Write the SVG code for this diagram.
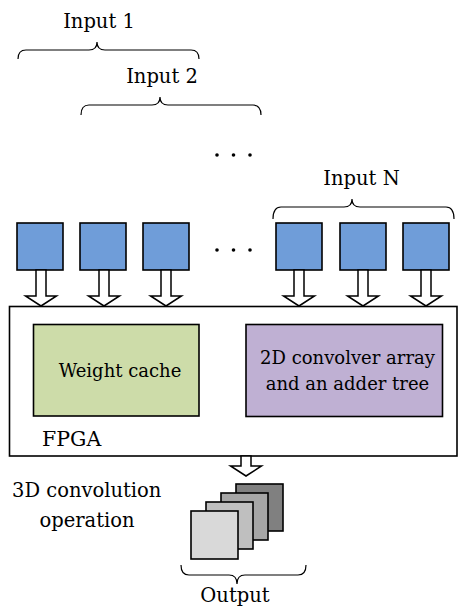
<svg xmlns="http://www.w3.org/2000/svg" width="464" height="607" viewBox="0 0 464 607">
  <style>
    text { font-family: "DejaVu Serif", serif; fill: #000; }
    .lbl { font-size: 19.5px; }
    .box { font-size: 18px; }
    .brace { fill: none; stroke: #000; stroke-width: 1.2; }
    .in { fill: #6F9DD9; stroke: #000; stroke-width: 1.6; }
    .arrow { fill: #fff; stroke: #000; stroke-width: 1.5; stroke-linejoin: miter; }
    .fmap { stroke: #000; stroke-width: 1.6; }
  </style>
  <defs>
    <!-- hollow block arrow pointing down, origin at shaft top centre -->
    <polygon id="blk" class="arrow" points="-5,0 5,0 5,26 15.5,26 0,36 -15.5,26 -5,26"/>
  </defs>

  <!-- input labels and braces -->
  <g id="input1">
    <text class="lbl" x="99" y="28" text-anchor="middle">Input 1</text>
    <path class="brace" d="M18,59 Q18,50 26,50 L89,50 Q97,50 97,42 Q97,50 105,50 L191,50 Q199,50 199,59"/>
  </g>
  <g id="input2">
    <text class="lbl" x="162" y="83" text-anchor="middle">Input 2</text>
    <path class="brace" d="M81,115 Q81,105 89,105 L152,105 Q160,105 160,97 Q160,105 168,105 L253,105 Q261,105 261,115"/>
  </g>
  <g id="dots-top">
    <circle cx="217" cy="155" r="1.8"/>
    <circle cx="233.5" cy="155" r="1.8"/>
    <circle cx="250" cy="155" r="1.8"/>
  </g>
  <g id="inputN">
    <text class="lbl" x="361.5" y="185" text-anchor="middle">Input N</text>
    <path class="brace" d="M273,219 Q273,207 281,207 L344,207 Q352,207 352,199 Q352,207 360,207 L446,207 Q454,207 454,219"/>
  </g>

  <!-- input feature maps -->
  <g id="inputs">
    <rect class="in" x="17" y="223" width="46" height="47"/>
    <rect class="in" x="80" y="223" width="46" height="47"/>
    <rect class="in" x="143" y="223" width="46" height="47"/>
    <rect class="in" x="276" y="223" width="46" height="47"/>
    <rect class="in" x="340" y="223" width="46" height="47"/>
    <rect class="in" x="403" y="223" width="46" height="47"/>
  </g>
  <g id="dots-mid">
    <circle cx="217" cy="250" r="1.8"/>
    <circle cx="233.5" cy="250" r="1.8"/>
    <circle cx="250" cy="250" r="1.8"/>
  </g>

  <!-- FPGA block -->
  <g id="fpga">
    <rect x="9.5" y="306.5" width="447.5" height="149.5" fill="#fff" stroke="#000" stroke-width="1.6"/>
    <text class="lbl" x="42" y="446" style="font-size:20.5px">FPGA</text>
  </g>
  <g id="weight-cache">
    <rect x="33.5" y="324.5" width="165.5" height="91.5" fill="#CDDCA9" stroke="#000" stroke-width="1.6"/>
    <text class="box" x="120" y="377" text-anchor="middle">Weight cache</text>
  </g>
  <g id="convolver">
    <rect x="246" y="324.5" width="196.5" height="92" fill="#BFB0D3" stroke="#000" stroke-width="1.6"/>
    <text class="box" x="347.5" y="364" text-anchor="middle">2D convolver array</text>
    <text class="box" x="347.5" y="390" text-anchor="middle">and an adder tree</text>
  </g>

  <!-- data-flow arrows -->
  <g id="connectors">
    <use href="#blk" x="41" y="270"/>
    <use href="#blk" x="104" y="270"/>
    <use href="#blk" x="166" y="270"/>
    <use href="#blk" x="299" y="270"/>
    <use href="#blk" x="363" y="270"/>
    <use href="#blk" x="426" y="270"/>
    <polygon class="arrow" points="241,456 251,456 251,466 261.5,466 246,476 230.5,466 241,466"/>
  </g>

  <!-- output feature maps -->
  <g id="operation-label">
    <text class="lbl" x="12" y="497">3D convolution</text>
    <text class="lbl" x="87" y="527" text-anchor="middle">operation</text>
  </g>
  <g id="outputs">
    <rect class="fmap" x="236" y="484" width="47" height="47" fill="#808080"/>
    <rect class="fmap" x="221" y="493" width="47" height="47" fill="#A6A6A6"/>
    <rect class="fmap" x="206" y="502" width="47" height="47" fill="#BFBFBF"/>
    <rect class="fmap" x="191" y="511" width="47" height="48" fill="#D9D9D9"/>
  </g>
  <g id="output">
    <path class="brace" d="M181,565 Q181,575 189,575 L229,575 Q237,575 237,584 Q237,575 245,575 L298,575 Q306,575 306,565"/>
    <text class="lbl" x="235" y="602" text-anchor="middle">Output</text>
  </g>
</svg>
